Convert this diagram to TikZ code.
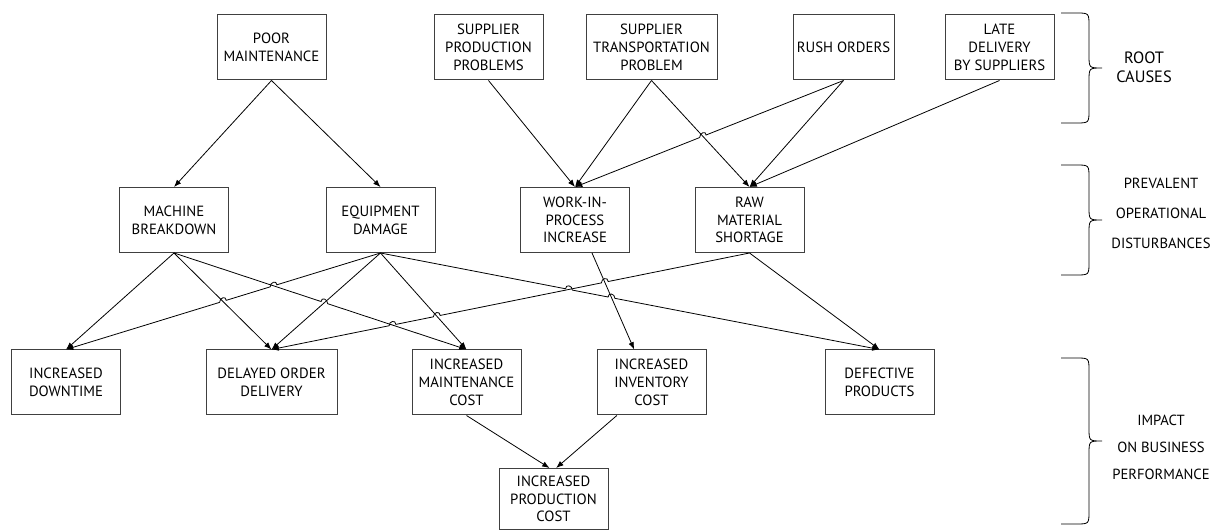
\documentclass[tikz,border=0pt]{standalone}
\usepackage{fontspec}
\setmainfont{PT Sans}
\usetikzlibrary{arrows.meta,calc,intersections}

\newcommand{\linejump}[2]{-- ($(#1)!2.6pt!(#2)$) .. controls +(0pt,3.6pt) and +(0pt,3.6pt) .. ($(#1)!-2.6pt!(#2)$)}

\begin{document}
\begin{tikzpicture}[x=0.75pt,y=-0.75pt,>={Latex[length=5.5pt,width=4.2pt]}]
\tikzstyle{cause}=[draw=black!75, line width=0.75pt, minimum width=81.75pt,
minimum height=48.75pt, align=center, inner sep=1pt, font=\fontsize{11.1}{13.3}\selectfont]
\tikzstyle{link}=[draw, ->, line width=0.6pt]
\tikzstyle{lvl}=[align=center, font=\fontsize{11}{13.3}\selectfont]

\useasboundingbox (0,0) rectangle (1225,530);

\node (poor) [cause] at (271.5,47.5) {POOR\\MAINTENANCE};
\path (poor)+(217,0) node (supprod) [cause] {SUPPLIER\\PRODUCTION\\PROBLEMS};
\path (supprod)+(163,0) node (suptrans) [cause, minimum width=98.25pt] {SUPPLIER\\TRANSPORTATION\\PROBLEM};
\path (suptrans)+(192,0) node (rush) [cause, minimum width=75.75pt] {RUSH ORDERS};
\path (rush)+(156,0) node (late) [cause] {LATE\\DELIVERY\\BY SUPPLIERS};

\path (poor)+(-97.5,172.5) node (machine) [cause] {MACHINE\\BREAKDOWN};
\path (machine)+(206.5,0) node (equip) [cause] {EQUIPMENT\\DAMAGE};
\path (equip)+(194.5,0) node (wip) [cause] {WORK-IN-\\PROCESS\\INCREASE};
\path (wip)+(174.5,0) node (raw) [cause] {RAW\\MATERIAL\\SHORTAGE};

\path (machine)+(-108,162.5) node (downtime) [cause] {INCREASED\\DOWNTIME};
\path (downtime)+(205.5,0) node (delayed) [cause, minimum width=98.25pt] {DELAYED ORDER\\DELIVERY};
\path (delayed)+(195,0) node (maint) [cause] {INCREASED\\MAINTENANCE\\COST};
\path (maint)+(185,0) node (inventory) [cause] {INCREASED\\INVENTORY\\COST};
\path (inventory)+(228,0) node (defective) [cause] {DEFECTIVE\\PRODUCTS};
\path (maint)+(87,116.5) node (prodcost) [cause, minimum height=45.75pt] {INCREASED\\PRODUCTION\\COST};

\path [name path=mm] (machine.south) -- (maint.north);
\path [name path=md] (machine.south) -- (delayed.north);
\path [name path=ed] (equip.south) -- (downtime.north);
\path [name path=el] (equip.south) -- (delayed.north);
\path [name path=ea] (equip.south) -- (maint.north);
\path [name path=ef] (equip.south) -- (defective.north);
\path [name path=wi] ([xshift=12.75pt]wip.south) -- ([xshift=-13pt]inventory.north);
\path [name path=rd] (raw.south) -- (delayed.north);
\path [name path=rw] (rush.south) -- (wip.north);
\path [name path=tr] (suptrans.south) -- (raw.north);

\path [name intersections={of=ed and mm, by=h1}];
\path [name intersections={of=ed and md, by=h2}];
\path [name intersections={of=mm and el, by=h3}];
\path [name intersections={of=ef and rd, by=h4}];
\path [name intersections={of=ef and wi, by=h5}];
\path [name intersections={of=rd and wi, by=h6}];
\path [name intersections={of=rd and ea, by=h7}];
\path [name intersections={of=rd and mm, by=h8}];
\path [name intersections={of=rw and tr, by=h9}];

\path [link] (poor.south) -- (machine.north);
\path [link] (poor.south) -- (equip.north);
\path [link] (supprod.south) -- (wip.north);
\path [link] (suptrans.south) -- (wip.north);
\path [link] (rush.south) \linejump{h9}{rush.south} -- (wip.north);
\path [link] (suptrans.south) -- (raw.north);
\path [link] (rush.south) -- (raw.north);
\path [link] (late.south) -- (raw.north);

\path [link] (machine.south) -- (downtime.north);
\path [link] (machine.south) -- (delayed.north);
\path [link] (machine.south) \linejump{h3}{machine.south} -- (maint.north);
\path [link] (equip.south) \linejump{h1}{equip.south} \linejump{h2}{equip.south} -- (downtime.north);
\path [link] (equip.south) -- (delayed.north);
\path [link] (equip.south) -- (maint.north);
\path [link] (equip.south) \linejump{h4}{equip.south} \linejump{h5}{equip.south} -- (defective.north);
\path [link] ([xshift=12.75pt]wip.south) -- ([xshift=-13pt]inventory.north);
\path [link] (raw.south) \linejump{h6}{raw.south} \linejump{h7}{raw.south} \linejump{h8}{raw.south} -- (delayed.north);
\path [link] (raw.south) -- (defective.north);

\path [link] (maint.south) -- ([xshift=-3pt]prodcost.north);
\path [link] ([xshift=-26pt]inventory.south) -- ([xshift=2pt]prodcost.north);

\foreach \t/\m/\b in {13/68/123,165/220/275,358/441/524}
  \path [draw, line width=0.6pt] (1061,\t) -- (1076,\t) .. controls (1089,\t) .. (1089,\t+13)
    -- (1089,\m-13) .. controls (1089,\m) .. (1102,\m) .. controls (1089,\m) .. (1089,\m+13)
    -- (1089,\b-13) .. controls (1089,\b) .. (1076,\b) -- (1061,\b);

\node (roots) [lvl, font=\fontsize{12.3}{14.5}\selectfont] at (1144,67.5) {ROOT\\CAUSES};
\node (disturb) [lvl] at (1161,213) {PREVALENT\\[9.2pt]OPERATIONAL\\[9.2pt]DISTURBANCES};
\node (impact) [lvl] at (1161,447) {IMPACT\\[7pt]ON BUSINESS\\[7pt]PERFORMANCE};
\end{tikzpicture}
\end{document}
